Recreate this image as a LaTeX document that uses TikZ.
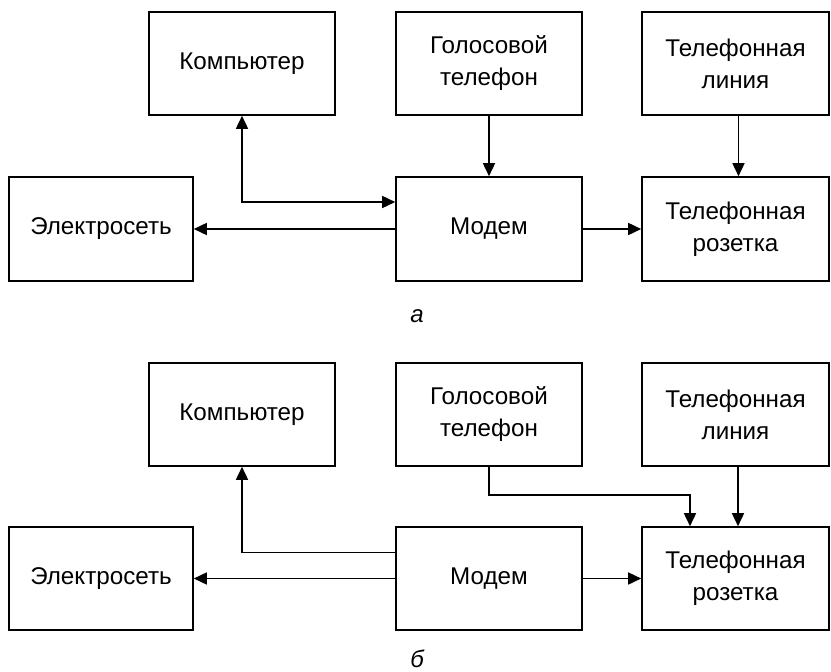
\documentclass[tikz,border=0pt]{standalone}
\usepackage{fontspec}
\setmainfont{Liberation Sans}
\usetikzlibrary{arrows.meta}
\begin{document}
\begin{tikzpicture}[x=1pt,y=-1pt,
  blk/.style={draw,line width=1.6pt,minimum height=103pt,inner sep=0pt,
    align=center,font=\fontsize{24.2}{32}\selectfont},
  wide/.style={blk,minimum width=186pt},
  link/.style={line width=1.6pt,-{Triangle[length=13pt,width=12pt]}},
  dlink/.style={line width=1.6pt,{Triangle[length=13pt,width=12pt]}-{Triangle[length=13pt,width=12pt]}},
  caption/.style={font=\fontsize{24}{28}\selectfont\itshape}]
\useasboundingbox (0,0) rectangle (831,672);

% variant (a)
\node[wide] (comp)   at (242,63.5)  {Компьютер};
\node[wide] (voice)  at (489,63.5)  {Голосовой\\телефон};
\node[wide,minimum width=187pt] (line) at (735.5,63.5) {Телефонная\\линия};
\node[wide,minimum width=184pt,minimum height=104pt] (grid)  at (101,229) {Электросеть};
\node[wide,minimum height=104pt] (modem) at (489,229) {Модем};
\node[wide,minimum width=187pt,minimum height=104pt] (socket) at (735.5,229) {Телефонная\\розетка};
\node[caption] (capa) at (417,316) {а};

\draw[dlink] (comp.south) |- ([yshift=27pt]modem.west);
\draw[link] (modem.west) -- (grid.east);
\draw[link] (voice.south) -- (modem.north);
\draw[link] ([xshift=3pt]line.south) -- ([xshift=3pt]socket.north);
\draw[link] (modem.east) -- (socket.west);

% variant (b)
\node[wide] (comp2)  at (242,414.5) {Компьютер};
\node[wide] (voice2) at (489,414.5) {Голосовой\\телефон};
\node[wide,minimum width=187pt] (line2) at (735.5,414.5) {Телефонная\\линия};
\node[wide,minimum width=184pt] (grid2)  at (101,578.5) {Электросеть};
\node[wide] (modem2) at (489,578.5) {Модем};
\node[wide,minimum width=187pt] (socket2) at (735.5,578.5) {Телефонная\\розетка};
\node[caption] (capb) at (417,659) {б};

\draw[link] ([yshift=26pt]modem2.west) -| (comp2.south);
\draw[link] (modem2.west) -- (grid2.east);
\draw[link] (modem2.east) -- (socket2.west);
\draw[link] (voice2.south) -- ++(0,28) -| ([xshift=-45.5pt]socket2.north);
\draw[link] ([xshift=2.5pt]line2.south) -- ([xshift=2.5pt]socket2.north);
\end{tikzpicture}
\end{document}
